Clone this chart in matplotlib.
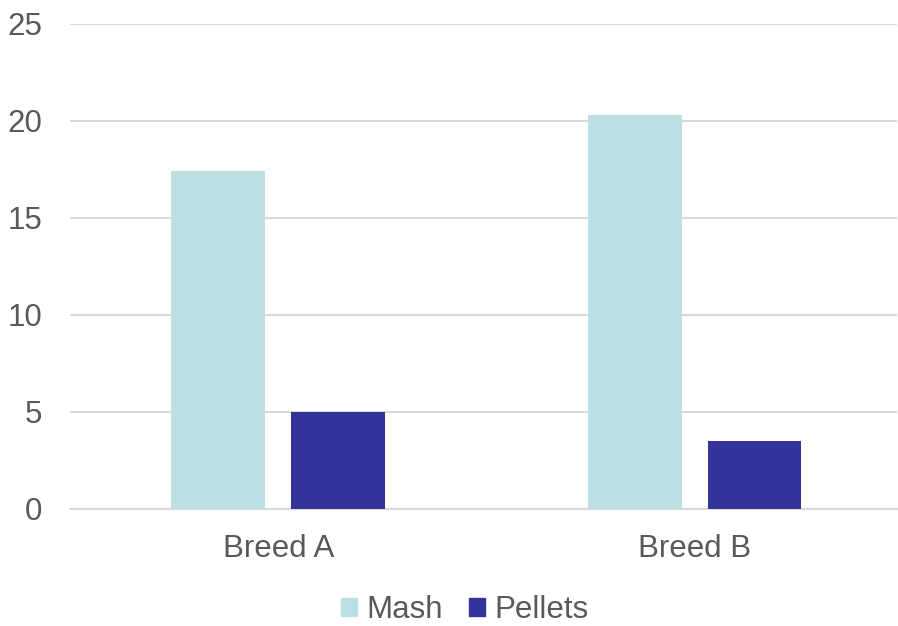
import numpy as np
import matplotlib.pyplot as plt
from matplotlib.patches import Patch

breeds = ['Breed A', 'Breed B']
mash = [17.4, 20.3]
pellets = [5.0, 3.5]

plt.rcParams['font.family'] = ['Liberation Sans', 'DejaVu Sans']
text_color = '#595959'
grid_color = '#d9d9d9'

fig = plt.figure(figsize=(8.98, 6.26), dpi=100)
ax = fig.add_axes([70 / 898, 1 - 509 / 626, 827 / 898, 485 / 626])

x = np.arange(len(breeds))
w = 0.225
ax.bar(x - 0.144, mash, w, color='#bae0e3', label='Mash', zorder=3)
ax.bar(x + 0.144, pellets, w, color='#333399', label='Pellets', zorder=3)

ax.set_xlim(-0.5, 1.486)
ax.set_ylim(0, 25)
ax.set_yticks(range(0, 26, 5))
ax.set_xticks(x)
ax.set_xticklabels(breeds)
ax.yaxis.grid(True, color=grid_color, linewidth=1.5, zorder=0)
ax.tick_params(axis='both', length=0, labelsize=22.5, colors=text_color)
ax.tick_params(axis='y', pad=20)
ax.tick_params(axis='x', pad=18)
for s in ['top', 'right', 'left']:
    ax.spines[s].set_visible(False)
ax.spines['bottom'].set_color(grid_color)
ax.spines['bottom'].set_linewidth(1.5)

handles = [Patch(color='#bae0e3', label='Mash'), Patch(color='#333399', label='Pellets')]
leg = fig.legend(handles=handles, loc='center', bbox_to_anchor=(465 / 898, 1 - 610 / 626),
                 ncol=2, frameon=False, fontsize=22.5, handlelength=0.5, handleheight=0.5,
                 handletextpad=0.3, columnspacing=0.85)
for t in leg.get_texts():
    t.set_color(text_color)

fig.savefig('out.png', dpi=100)
